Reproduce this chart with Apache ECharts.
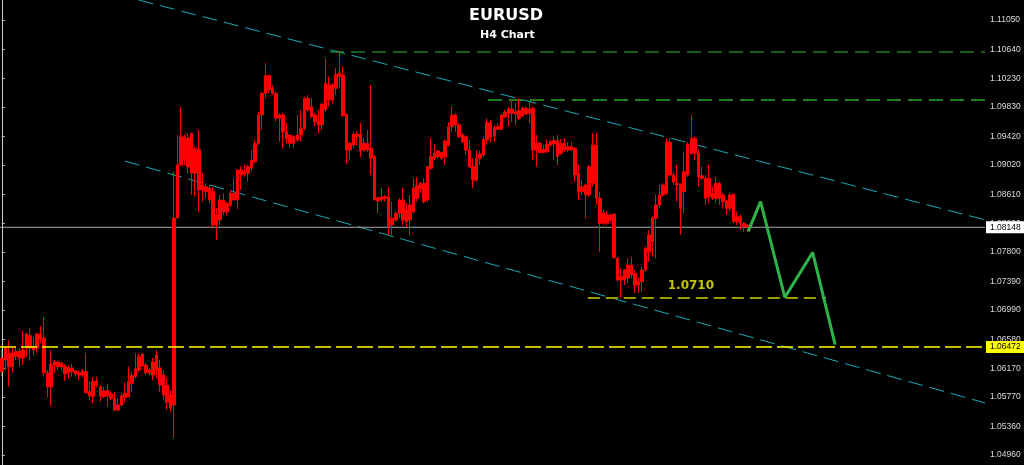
<!DOCTYPE html>
<html><head><meta charset="utf-8">
<script src="https://cdn.jsdelivr.net/npm/echarts@6/dist/echarts.min.js"></script>
<style>html,body{margin:0;padding:0;background:#000;}#c{width:1024px;height:465px;}</style>
</head><body><div id="c"></div>
<script>
// H4 candles, oldest to newest
const open=[
1.06126,1.06462,1.06388,1.06196,1.06406,1.06416,1.06318,1.06458,1.06630,1.06430,
1.06458,1.06654,1.06598,1.06112,1.05916,1.06266,1.06262,1.06196,1.06206,1.06108,
1.06178,1.06140,1.06080,1.06080,1.06126,1.05846,1.05776,1.05996,1.05912,1.05776,
1.05860,1.05814,1.05754,1.05590,1.05660,1.05768,1.05776,1.05964,1.06056,1.06150,
1.06374,1.06220,1.06112,1.06080,1.06150,1.06178,1.06080,1.05940,1.05800,1.05660,
1.08278,1.09020,1.09416,1.08996,1.09464,1.08904,1.09240,1.08670,1.08716,1.08694,
1.08646,1.08180,1.08250,1.08530,1.08366,1.08460,1.08624,1.08530,1.08950,1.08890,
1.08904,1.08974,1.09066,1.09324,1.09720,1.10024,1.10270,1.10024,1.10024,1.09674,
1.09720,1.09486,1.09440,1.09324,1.09370,1.09440,1.09534,1.09954,1.09836,1.09720,
1.09636,1.09580,1.09790,1.10140,1.09930,1.10094,1.10256,1.10280,1.09730,1.09230,
1.09300,1.09450,1.09450,1.09230,1.09324,1.09254,1.09136,1.08562,1.08530,1.08576,
1.08576,1.08180,1.08344,1.08344,1.08530,1.08226,1.08460,1.08366,1.08730,1.08694,
1.08764,1.08530,1.08974,1.09114,1.09136,1.09198,1.09136,1.09300,1.09556,1.09720,
1.09580,1.09440,1.09416,1.09230,1.08996,1.08810,1.09114,1.09160,1.09370,1.09612,
1.09426,1.09556,1.09520,1.09696,1.09744,1.09804,1.09734,1.09674,1.09706,1.09814,
1.09744,1.09814,1.09230,1.09324,1.09192,1.09206,1.09300,1.09360,1.09360,1.09184,
1.09324,1.09230,1.09276,1.09254,1.08904,1.08646,1.08740,1.08600,1.08764,1.09300,
1.08554,1.08204,1.08320,1.08250,1.08330,1.07714,1.07410,1.07410,1.07434,1.07620,
1.07504,1.07340,1.07386,1.07550,1.07806,1.07946,1.08274,1.08460,1.08600,1.08624,
1.09338,1.08880,1.08764,1.08750,1.08646,1.08880,1.09184,1.09394,1.09192,1.08870,
1.08834,1.08576,1.08624,1.08554,1.08764,1.08600,1.08516,1.08414,1.08610,1.08226,
1.08296,1.08204,1.08180];
const close=[
1.06314,1.06290,1.06196,1.06388,1.06336,1.06318,1.06430,1.06654,1.06458,1.06476,
1.06654,1.06584,1.06112,1.05912,1.06234,1.06220,1.06196,1.06248,1.06094,1.06182,
1.06126,1.06094,1.06112,1.06136,1.05832,1.05786,1.05986,1.05940,1.05786,1.05860,
1.05786,1.05754,1.05590,1.05660,1.05790,1.05824,1.05986,1.06070,1.06164,1.06336,
1.06206,1.06112,1.06150,1.06262,1.06360,1.05940,1.05800,1.05702,1.05618,1.08278,
1.09020,1.09416,1.09090,1.09394,1.08904,1.09240,1.08670,1.08740,1.08646,1.08530,
1.08180,1.08320,1.08530,1.08366,1.08484,1.08624,1.08530,1.08950,1.08880,1.08926,
1.08996,1.09090,1.09324,1.09720,1.10024,1.10270,1.10070,1.10094,1.09674,1.09720,
1.09486,1.09394,1.09324,1.09416,1.09440,1.09534,1.09954,1.09790,1.09696,1.09626,
1.09580,1.09870,1.10164,1.09930,1.10140,1.10290,1.10304,1.09710,1.09230,1.09324,
1.09450,1.09416,1.09216,1.09324,1.09230,1.09114,1.08530,1.08516,1.08576,1.08554,
1.08156,1.08274,1.08250,1.08530,1.08250,1.08390,1.08250,1.08694,1.08554,1.08764,
1.08506,1.08996,1.09136,1.09184,1.09216,1.09114,1.09356,1.09556,1.09720,1.09580,
1.09416,1.09346,1.09230,1.08996,1.08810,1.09114,1.09174,1.09380,1.09612,1.09416,
1.09542,1.09520,1.09720,1.09752,1.09804,1.09744,1.09766,1.09780,1.09814,1.09734,
1.09804,1.09230,1.09324,1.09192,1.09240,1.09310,1.09346,1.09314,1.09136,1.09324,
1.09230,1.09276,1.09230,1.08880,1.08646,1.08716,1.08600,1.08996,1.09300,1.08554,
1.08204,1.08344,1.08204,1.08320,1.07722,1.07410,1.07456,1.07550,1.07620,1.07480,
1.07340,1.07386,1.07550,1.07854,1.08040,1.08282,1.08460,1.08600,1.08740,1.09346,
1.08880,1.08778,1.08740,1.08414,1.08926,1.09310,1.09394,1.09184,1.08856,1.08834,
1.08554,1.08834,1.08554,1.08764,1.08554,1.08506,1.08414,1.08600,1.08226,1.08296,
1.08204,1.08156,1.08148];
const low=[
1.06066,1.06150,1.05916,1.06112,1.06290,1.06196,1.06220,1.06336,1.06280,1.06360,
1.06406,1.06528,1.06056,1.05772,1.05650,1.06108,1.06150,1.06140,1.06000,1.06038,
1.06056,1.06066,1.06010,1.06048,1.05824,1.05730,1.05688,1.05912,1.05706,1.05758,
1.05636,1.05730,1.05580,1.05576,1.05646,1.05706,1.05768,1.05846,1.06034,1.06126,
1.06196,1.06080,1.06080,1.06010,1.06038,1.05842,1.05730,1.05590,1.05562,1.05198,
1.08278,1.09020,1.09020,1.08904,1.08600,1.08576,1.08366,1.08506,1.08554,1.08484,
1.08134,1.07970,1.08180,1.08320,1.08320,1.08436,1.08530,1.08404,1.08670,1.08856,
1.08786,1.08926,1.09044,1.09300,1.09510,1.09954,1.10024,1.10000,1.09626,1.09346,
1.09254,1.09324,1.09276,1.09254,1.09346,1.09346,1.09510,1.09766,1.09674,1.09556,
1.09464,1.09510,1.09766,1.09836,1.09884,1.10000,1.10094,1.09696,1.09044,1.09090,
1.09254,1.09300,1.09136,1.09206,1.09206,1.08880,1.08530,1.08344,1.08506,1.08506,
1.08040,1.08040,1.08226,1.08274,1.08180,1.08156,1.08040,1.08344,1.08506,1.08624,
1.08484,1.08506,1.08950,1.09090,1.09114,1.09090,1.09020,1.09276,1.09486,1.09486,
1.09394,1.09324,1.09160,1.08974,1.08694,1.08786,1.09020,1.09136,1.09300,1.09332,
1.09346,1.09510,1.09510,1.09674,1.09556,1.09626,1.09580,1.09650,1.09696,1.09720,
1.09604,1.09090,1.08996,1.09184,1.09184,1.09184,1.09276,1.09090,1.09020,1.09160,
1.09206,1.09206,1.09220,1.08786,1.08530,1.08600,1.08274,1.08576,1.08716,1.08460,
1.07806,1.08180,1.08180,1.08226,1.07714,1.07386,1.07154,1.07340,1.07364,1.07434,
1.07224,1.07224,1.07246,1.07526,1.07666,1.07736,1.07714,1.08414,1.08576,1.08600,
1.08856,1.08740,1.08506,1.08040,1.08344,1.08856,1.09160,1.09090,1.08716,1.08810,
1.08460,1.08484,1.08530,1.08506,1.08460,1.08414,1.08320,1.08366,1.08204,1.08180,
1.08110,1.08086,1.08082];
const high=[
1.06430,1.06476,1.06570,1.06458,1.06458,1.06458,1.06696,1.06672,1.06738,1.06616,
1.06668,1.06766,1.06892,1.06150,1.06430,1.06290,1.06280,1.06252,1.06234,1.06220,
1.06234,1.06150,1.06140,1.06164,1.06392,1.05986,1.06052,1.06052,1.05940,1.05916,
1.05954,1.05846,1.05846,1.05754,1.05824,1.05972,1.06196,1.06126,1.06384,1.06384,
1.06374,1.06252,1.06178,1.06318,1.06430,1.06290,1.06150,1.06038,1.05870,1.08922,
1.09440,1.09836,1.09440,1.09464,1.09464,1.09276,1.09510,1.08904,1.08764,1.08740,
1.08716,1.08414,1.08600,1.08624,1.08506,1.08670,1.08834,1.08950,1.08996,1.09020,
1.09020,1.09230,1.09370,1.09766,1.10046,1.10444,1.10280,1.10140,1.10046,1.09744,
1.09744,1.09604,1.09440,1.09440,1.09720,1.09790,1.09976,1.10000,1.09954,1.09744,
1.09790,1.09884,1.10514,1.10256,1.10164,1.10374,1.10616,1.10396,1.09744,1.09346,
1.09478,1.09496,1.09604,1.09394,1.09510,1.10140,1.09160,1.08576,1.08694,1.08600,
1.08716,1.08506,1.08366,1.08554,1.08694,1.08484,1.08600,1.08834,1.08856,1.08786,
1.08834,1.08996,1.09394,1.09310,1.09230,1.09206,1.09380,1.09618,1.09846,1.09744,
1.09604,1.09472,1.09440,1.09370,1.09114,1.09230,1.09220,1.09416,1.09674,1.09650,
1.09580,1.09604,1.09734,1.09790,1.09828,1.09930,1.09884,1.09954,1.09836,1.09836,
1.09906,1.09836,1.09440,1.09346,1.09300,1.09370,1.09370,1.09416,1.09440,1.09380,
1.09394,1.09346,1.09346,1.09268,1.09020,1.08810,1.08764,1.09020,1.09464,1.09464,
1.08646,1.08390,1.08366,1.08344,1.08344,1.07736,1.07574,1.07564,1.07714,1.07736,
1.07550,1.07434,1.07596,1.07876,1.08110,1.08296,1.08600,1.08740,1.08764,1.09394,
1.09394,1.08926,1.09020,1.08764,1.09206,1.09346,1.09720,1.09416,1.09230,1.08996,
1.08880,1.09020,1.08716,1.08856,1.08786,1.08624,1.08530,1.08624,1.08624,1.08366,
1.08320,1.08218,1.08194];

// Price scale tick labels on the right axis
const priceTicks=[1.04960,1.05360,1.05770,1.06170,1.06580,1.06990,1.07390,1.07800,
1.08200,1.08610,1.09020,1.09420,1.09830,1.10230,1.10640,1.11050];
const priceMin=1.04820, priceMax=1.11330;

// Levels and drawn objects (x in bar slots, y in price)
const currentPrice=1.08148;
const supportLevel=1.06472;
const resistanceTop=[[93.3,1.10602],[279.5,1.10602]];
const resistanceMid=[[138.2,1.09930],[279.5,1.09930]];
const targetLine=[[166.6,1.07158],[234.3,1.07158]];
const targetLabel={text:'1.0710', at:[195.9,1.07326]};
const upperChannel=[[38.9,1.11330],[279.5,1.08252]];
const lowerChannel=[[35.0,1.09074],[279.5,1.05689]];
const projection=[[212.2,1.08090],[215.7,1.08509],[222.6,1.07167],[230.5,1.07796],[236.9,1.06505]];
const slotCount=280;

const slots=Array.from({length:slotCount},(_,i)=>String(i));
const candles=open.map((o,i)=>[o,close[i],low[i],high[i]]);

const chart=echarts.init(document.getElementById('c'),null,{renderer:'canvas'});
const lbl={fontFamily:'Liberation Sans',fontSize:8.5};
function seg(data,color,width,type,z){
  return {type:'line',xAxisIndex:1,yAxisIndex:0,data:data,symbol:'none',silent:true,z:z||3,
    lineStyle:{color:color,width:width,type:type},animation:false};
}
function level(price,color,type,boxColor,width,z){
  const s=seg([[-0.5,price],[slotCount-0.5,price]],color,width,type,z);
  s.endLabel=Object.assign({show:true,distance:1,formatter:price.toFixed(5),color:'#000',
    backgroundColor:boxColor,padding:[2,4,1,4]},lbl);
  return s;
}
chart.setOption({
  backgroundColor:'#000000',
  animation:false,
  title:[
    {text:'EURUSD',left:464,top:3,textStyle:{color:'#ffffff',fontSize:16,fontWeight:'bold',fontFamily:'DejaVu Sans'}},
    {text:'H4 Chart',left:475,top:25,textStyle:{color:'#ffffff',fontSize:11,fontWeight:'bold',fontFamily:'DejaVu Sans'}}
  ],
  grid:{left:0,right:39,top:0,bottom:0,containLabel:false},
  xAxis:[
    {type:'category',data:slots,boundaryGap:true,show:false},
    {type:'value',min:-0.5,max:slotCount-0.5,show:false}
  ],
  yAxis:{type:'value',position:'right',min:priceMin,max:priceMax,scale:true,
    axisLine:{show:true,lineStyle:{color:'#c8c8c8',width:1}},
    axisTick:{show:true,inside:false,length:3,customValues:priceTicks,lineStyle:{color:'#c8c8c8'}},
    axisLabel:Object.assign({customValues:priceTicks,color:'#dcdcdc',margin:5,formatter:v=>v.toFixed(5)},lbl),
    splitLine:{show:false}},
  series:[
    level(currentPrice,'#a8a8a8','solid','#ffffff',1,3),
    level(supportLevel,'#ffff00',[16,5],'#ffff00',1.4,5),
    seg(upperChannel,'#17a9b6',1,[15,7],2),
    seg(lowerChannel,'#17a9b6',1,[15,7],2),
    seg(resistanceTop,'#2fb82f',1,[14,7],2),
    seg(resistanceMid,'#1f7f1f',2,[14,7],2),
    seg(targetLine,'#9c9c00',2,[12,6],2),
    {type:'candlestick',xAxisIndex:0,yAxisIndex:0,data:candles,barWidth:3,z:4,
      itemStyle:{color:'#ff0000',color0:'#ff0000',borderColor:'#ff0000',borderColor0:'#ff0000',borderWidth:1}},
    seg(projection,'#2db34a',3,'solid',6),
    {type:'scatter',xAxisIndex:1,yAxisIndex:0,data:[targetLabel.at],symbolSize:0,silent:true,z:6,
      label:{show:true,position:'inside',formatter:targetLabel.text,color:'#f5f500',fontSize:12,fontWeight:'bold',fontFamily:'DejaVu Sans'}}
  ]
});
</script></body></html>
